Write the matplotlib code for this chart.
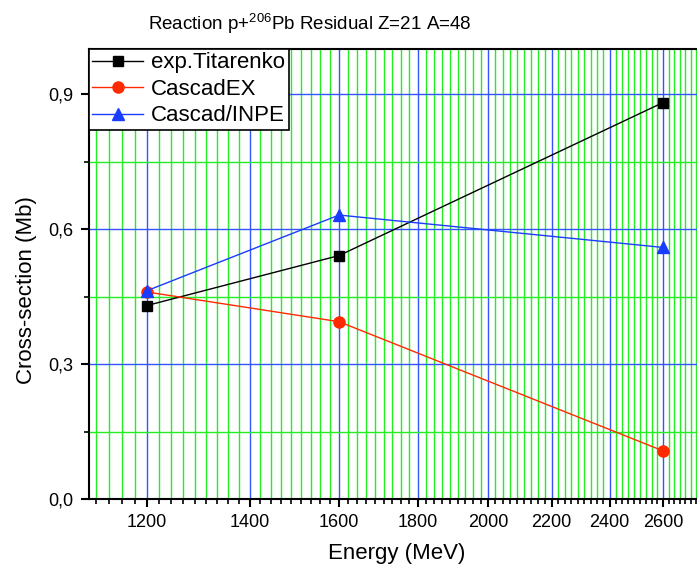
import numpy as np
import matplotlib
matplotlib.use("Agg")
import matplotlib.pyplot as plt
from matplotlib.ticker import FixedLocator, FuncFormatter, NullFormatter

plt.rcParams['font.family'] = ['Liberation Sans', 'DejaVu Sans']
plt.rcParams['mathtext.fontset'] = 'custom'
plt.rcParams['mathtext.rm'] = 'Liberation Sans'

# ---- data ----
energy = [1200, 1600, 2600]
exp_titarenko = [0.43, 0.541, 0.881]
cascadex = [0.46, 0.394, 0.107]
cascad_inpe = [0.463, 0.631, 0.559]

x_major = [1200, 1400, 1600, 1800, 2000, 2200, 2400, 2600]
y_major = [0.0, 0.3, 0.6, 0.9]
y_minor = [0.15, 0.45, 0.75]

title = r"Reaction p+$^{\mathrm{206}}$Pb Residual Z=21 A=48"
xlabel = "Energy (MeV)"
ylabel = "Cross-section (Mb)"

# minor x ticks: 8 between majors (Origin style)
step = 200.0 / 9
x_minor = [1200 - step * k for k in range(1, 5)]
for m in x_major + [2800]:
    x_minor += [m + step * k for k in range(1, 9)]

fig = plt.figure(figsize=(6.97, 5.70), dpi=100)
ax = fig.add_axes([89 / 697, 71 / 570, 623.5 / 697, 450 / 570])

ax.set_xscale('log')
ax.set_xlim(1100, 2800)
ax.set_ylim(0, 1.0)

ax.xaxis.set_major_locator(FixedLocator(x_major))
ax.xaxis.set_minor_locator(FixedLocator(x_minor))
ax.xaxis.set_major_formatter(FuncFormatter(lambda v, p: f"{int(round(v))}"))
ax.xaxis.set_minor_formatter(NullFormatter())
ax.yaxis.set_major_locator(FixedLocator(y_major))
ax.yaxis.set_minor_locator(FixedLocator(y_minor))
ax.yaxis.set_major_formatter(FuncFormatter(lambda v, p: f"{v:.1f}".replace('.', ',')))

# grids
ax.grid(which='minor', color='#22ee22', linewidth=1.0, zorder=0)
ax.grid(which='major', color='#3355ff', linewidth=1.0, zorder=0)
ax.set_axisbelow(True)

ax.plot(energy, exp_titarenko, color='black', lw=1.0, marker='s', ms=7,
        mfc='black', mec='black', label='exp.Titarenko', zorder=3)
ax.plot(energy, cascadex, color='#ff2a00', lw=1.0, marker='o', ms=8,
        mfc='#ff2a00', mec='#ff2a00', label='CascadEX', zorder=4)
ax.plot(energy, cascad_inpe, color='#1a3cff', lw=1.0, marker='^', ms=9,
        mfc='#1a3cff', mec='#1a3cff', label='Cascad/INPE', zorder=5)

for s in ['left', 'bottom', 'top', 'right']:
    ax.spines[s].set_linewidth(1.5)
    ax.spines[s].set_color('black')

ax.tick_params(which='major', direction='out', length=6, width=1.5,
               labelsize=13, pad=5)
ax.tick_params(which='minor', direction='out', length=3.5, width=1.2)

leg = ax.legend(loc='upper left', bbox_to_anchor=(0, 1), borderaxespad=0,
                fontsize=16, frameon=True, fancybox=False, framealpha=1,
                edgecolor='black', handlelength=2.3, handletextpad=0.35,
                labelspacing=0.25, borderpad=0.15)
leg.get_frame().set_linewidth(1.2)
leg.set_zorder(10)

fig.text(310 / 697, 1 - 24 / 570, title, ha='center', va='center', fontsize=13.5)
fig.text(397 / 697, 1 - 553 / 570, xlabel, ha='center', va='center', fontsize=16)
fig.text(27 / 697, 1 - 290 / 570, ylabel, ha='center', va='center',
         rotation=90, fontsize=16)

fig.savefig('out.png', dpi=100)
